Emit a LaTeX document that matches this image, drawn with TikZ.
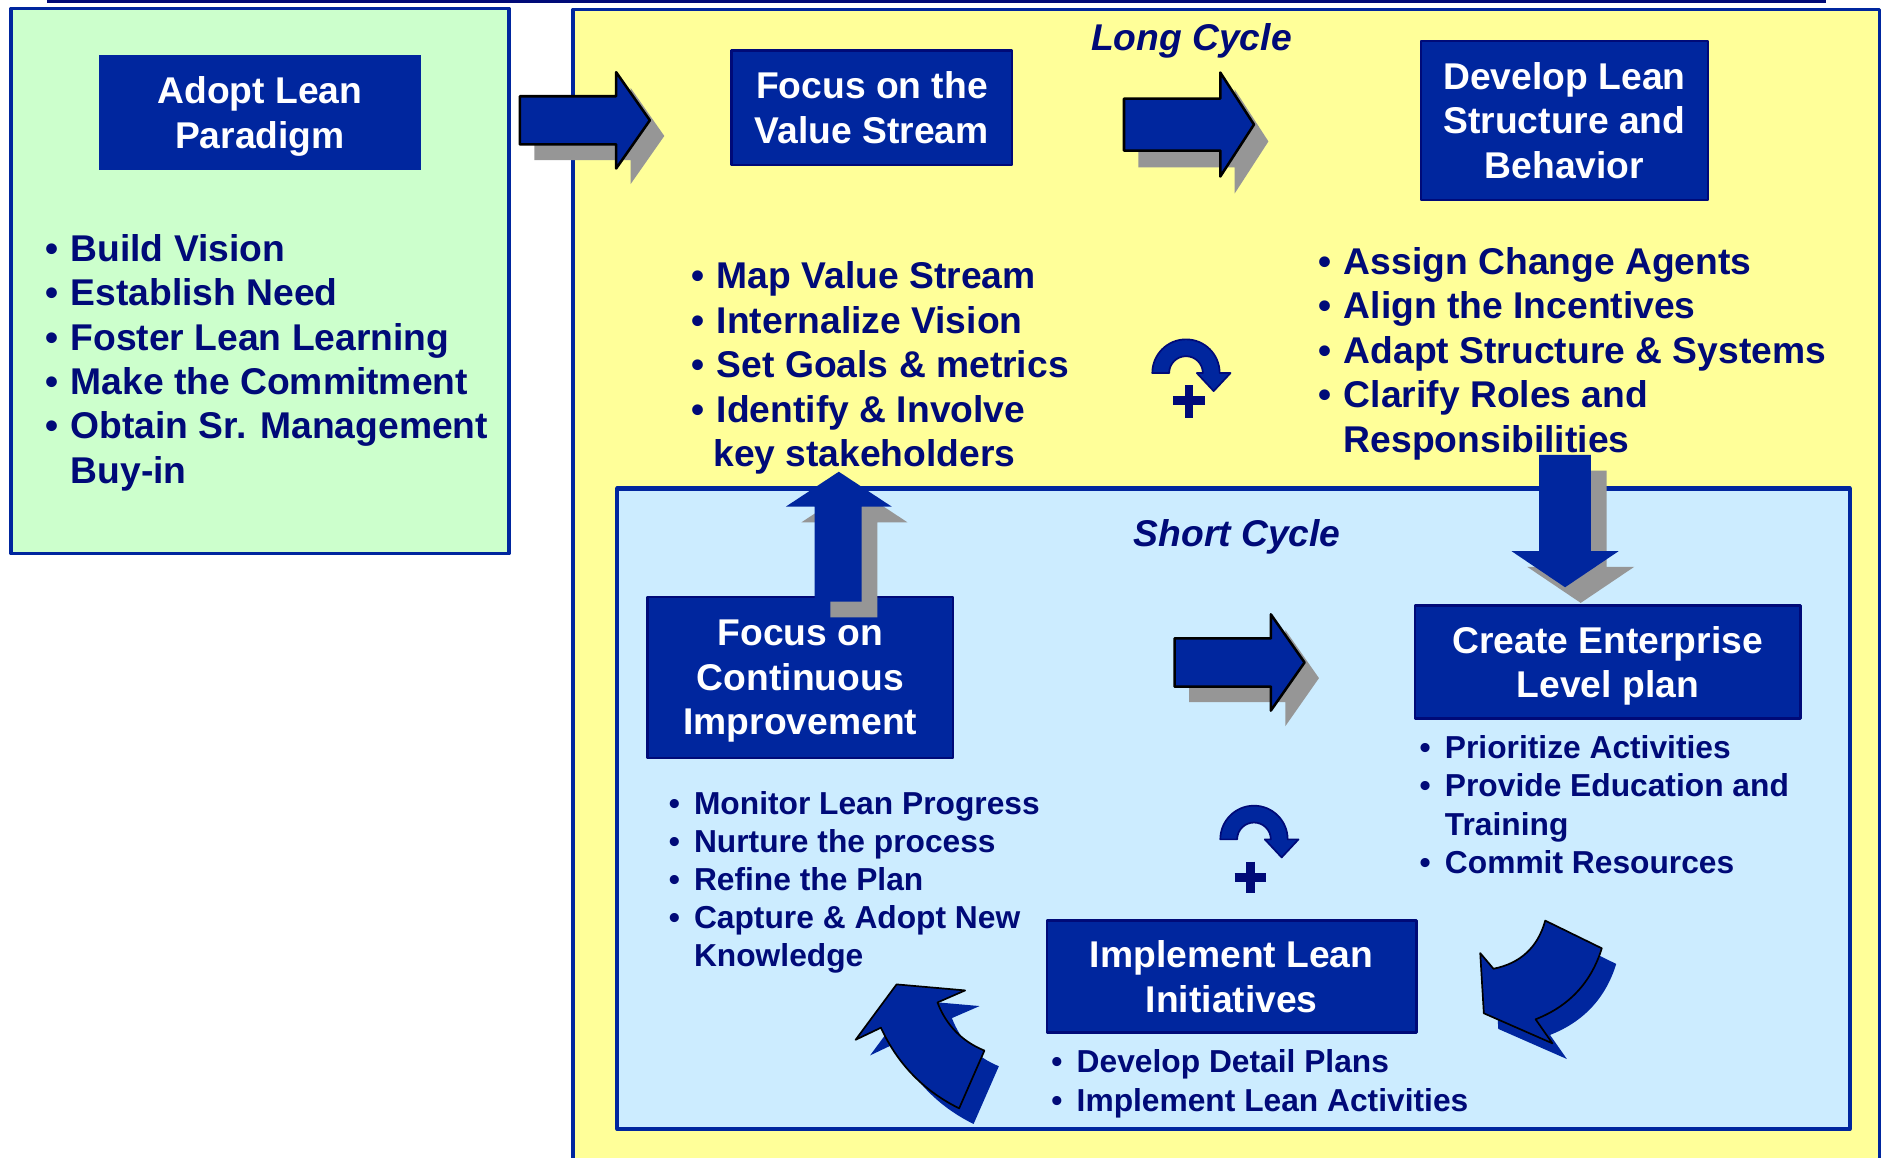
\documentclass[tikz,border=0pt]{standalone}
\usepackage{fontspec}
\setmainfont{Liberation Sans}

\definecolor{leanblue}{RGB}{0,38,158}
\definecolor{leannavy}{RGB}{0,10,120}
\definecolor{leangreen}{RGB}{204,255,204}
\definecolor{leanyellow}{RGB}{255,255,153}
\definecolor{leansky}{RGB}{204,236,255}
\definecolor{leangray}{RGB}{150,150,150}

% bullet and the indent of a wrapped line
\newcommand{\blt}{\makebox[0.21cm][l]{\textbullet}}
\newcommand{\bltgap}{\hspace*{0.21cm}}
% last title line without descender depth, so the lines sit centred
\newcommand{\nodepth}[1]{\raisebox{0pt}[\height][0pt]{#1}}

\tikzset{
    % straight block arrow pointing right, with its grey shadow
    pics/rarrow/.style={code={
        \fill[shade, shift={(12,13)}] (0,-20) -- (80,-20) -- (80,-40) -- (108,0)
            -- (80,40) -- (80,20) -- (0,20) -- cycle;
        \draw[block] (0,-20) -- (80,-20) -- (80,-40) -- (108,0)
            -- (80,40) -- (80,20) -- (0,20) -- cycle;
    }},
    % half turn arrow
    pics/turn/.style={code={
        \draw[fill=leanblue, draw=leannavy, line width=0.4pt]
            (-28,0) arc[start angle=180, end angle=360, radius=28]
            -- (37,0) -- (23,15) -- (9,0) -- (14,0)
            arc[start angle=360, end angle=180, radius=14] -- cycle;
    }}
}

\begin{document}
\begin{tikzpicture}[
            x = 0.01cm, % one unit per pixel
            y = -0.01cm, % y runs downwards
            line join = round,
            font = \fontsize{8.8}{10.5}\selectfont\bfseries
        ]

        \tikzstyle{title}=[
            fill = leanblue,
            draw = leannavy,
            line width = 0.6pt,
            text = white,
            align = center,
            inner sep = 0pt
        ]
        \tikzstyle{items}=[text = leannavy, anchor = base west, inner sep = 0pt]
        \tikzstyle{smallitems}=[items, font = \fontsize{7.5}{9.03}\selectfont\bfseries]
        \tikzstyle{cyclename}=[text = leannavy, anchor = base, inner sep = 0pt,
            font = \fontsize{8.8}{10.5}\selectfont\bfseries\itshape]
        \tikzstyle{frame}=[draw = leanblue, line width = 0.8pt]
        \tikzstyle{shade}=[fill = leangray]
        \tikzstyle{block}=[fill = leanblue, draw = black, line width = 0.6pt]
        \tikzstyle{curl}=[fill = leanblue, draw = black, line width = 0.4pt]
        \tikzstyle{plussign}=[draw = leannavy, line width = 2pt]

        \useasboundingbox (0,0) rectangle (1568,962);

        \draw[leannavy, line width = 0.7pt] (39,1) -- (1517,1);

        % the three areas
        \draw[frame, fill = leangreen] (9,7) rectangle (423,460);
        \draw[frame, fill = leanyellow] (476,8) rectangle (1562,990);
        \draw[frame, fill = leansky, line width = 1pt] (513,406) rectangle (1537,938);

        \node[title, draw = none, minimum width = 2.68cm, minimum height = 0.95cm] (adopt) at (216,93.5) {Adopt Lean\\\nodepth{Paradigm}};
        \node[title, minimum width = 2.33cm, minimum height = 0.95cm] (stream) at (724.5,89.5) {Focus on the\\Value Stream};
        \node[title, minimum width = 2.38cm, minimum height = 1.32cm] (structure) at (1300,100) {Develop Lean\\Structure and\\Behavior};
        \node[title, minimum width = 2.54cm, minimum height = 1.34cm] (improve) at (665,563) {Focus on\\Continuous\\\nodepth{Improvement}};
        \node[title, minimum width = 3.2cm, minimum height = 0.94cm] (plan) at (1336,550) {Create Enterprise\\\nodepth{Level plan}};
        \node[title, minimum width = 3.07cm, minimum height = 0.93cm] (implement) at (1023.5,811.5) {Implement Lean\\Initiatives};

        \node[cyclename] (long) at (990,42) {Long Cycle};
        \node[cyclename] (short) at (1028,454) {Short Cycle};

        \node[items] (adoptlist) at (37,217) {\begin{tabular}[t]{@{}l@{}}
            \blt Build Vision\\
            \blt Establish Need\\
            \blt Foster Lean Learning\\
            \blt Make the Commitment\\
            \blt Obtain Sr. Management\\
            \bltgap Buy-in
        \end{tabular}};

        \node[items] (streamlist) at (574,240) {\begin{tabular}[t]{@{}l@{}}
            \blt Map Value Stream\\
            \blt Internalize Vision\\
            \blt Set Goals \& metrics\\
            \blt Identify \& Involve\\
            \hspace*{0.18cm}key stakeholders
        \end{tabular}};

        \node[items] (structurelist) at (1095,228) {\begin{tabular}[t]{@{}l@{}}
            \blt Assign Change Agents\\
            \blt Align the Incentives\\
            \blt Adapt Structure \& Systems\\
            \blt Clarify Roles and\\
            \bltgap Responsibilities
        \end{tabular}};

        \node[smallitems] (improvelist) at (555,676.5) {\begin{tabular}[t]{@{}l@{}}
            \blt Monitor Lean Progress\\
            \blt Nurture the process\\
            \blt Refine the Plan\\
            \blt Capture \& Adopt New\\
            \bltgap Knowledge
        \end{tabular}};

        \node[smallitems] (planlist) at (1179,630.5) {\begin{tabular}[t]{@{}l@{}}
            \blt Prioritize Activities\\
            \blt Provide Education and\\
            \bltgap Training\\
            \blt Commit Resources
        \end{tabular}};

        \node[smallitems] (implementlist) at (873,891.5) {\begin{tabular}[t]{@{}l@{}}
            \blt Develop Detail Plans\\
            \blt Implement Lean Activities
        \end{tabular}};

        % long cycle arrows
        \pic at (432,100) {rarrow};
        \pic[yscale = 1.08] at (934,103.5) {rarrow};
        % short cycle arrow
        \pic at (976,550.5) {rarrow};

        % up into the long cycle
        \fill[shade, shift = {(13,13)}] (677,500) -- (677,421) -- (653,421) -- (697,392)
            -- (741,421) -- (716,421) -- (716,500) -- cycle;
        \fill[leanblue] (677,500) -- (677,421) -- (653,421) -- (697,392)
            -- (741,421) -- (716,421) -- (716,500) -- cycle;

        % down into the short cycle
        \fill[shade, shift = {(13,13)}] (1279,378) -- (1279,458) -- (1256,458) -- (1300.5,488)
            -- (1345,458) -- (1322,458) -- (1322,378) -- cycle;
        \fill[leanblue] (1279,378) -- (1279,458) -- (1256,458) -- (1300.5,488)
            -- (1345,458) -- (1322,458) -- (1322,378) -- cycle;

        % curved arrows round the short cycle
        \fill[leanblue, shift = {(12,13)}] (1284,765) -- (1331,788)
            .. controls (1322.2,816.5) and (1303.8,836.1) .. (1276,847)
            -- (1290,867) -- (1233,842) -- (1230,792) -- (1241,805)
            .. controls (1263.5,800.5) and (1277.9,787.1) .. (1284,765) -- cycle;
        \draw[curl] (1284,765) -- (1331,788)
            .. controls (1322.2,816.5) and (1303.8,836.1) .. (1276,847)
            -- (1290,867) -- (1233,842) -- (1230,792) -- (1241,805)
            .. controls (1263.5,800.5) and (1277.9,787.1) .. (1284,765) -- cycle;

        \fill[leanblue, shift = {(12,13)}] (745,818) -- (802,823) -- (779,833)
            .. controls (786.2,851.9) and (799.2,865.3) .. (818,873)
            -- (797,921) .. controls (767.4,906.4) and (745.8,884) .. (732,854)
            -- (711,864) -- cycle;
        \draw[curl] (745,818) -- (802,823) -- (779,833)
            .. controls (786.2,851.9) and (799.2,865.3) .. (818,873)
            -- (797,921) .. controls (767.4,906.4) and (745.8,884) .. (732,854)
            -- (711,864) -- cycle;

        % turn and plus signs
        \pic at (985.5,310) {turn};
        \draw[plussign] (974.5,333) -- (1001.5,333) (988,320) -- (988,347);
        \pic at (1042,697.5) {turn};
        \draw[plussign] (1026,729) -- (1052,729) (1039,716) -- (1039,742);

        %\draw[red, dashed] (0,0) rectangle (1568,962);
    \end{tikzpicture}
\end{document}
